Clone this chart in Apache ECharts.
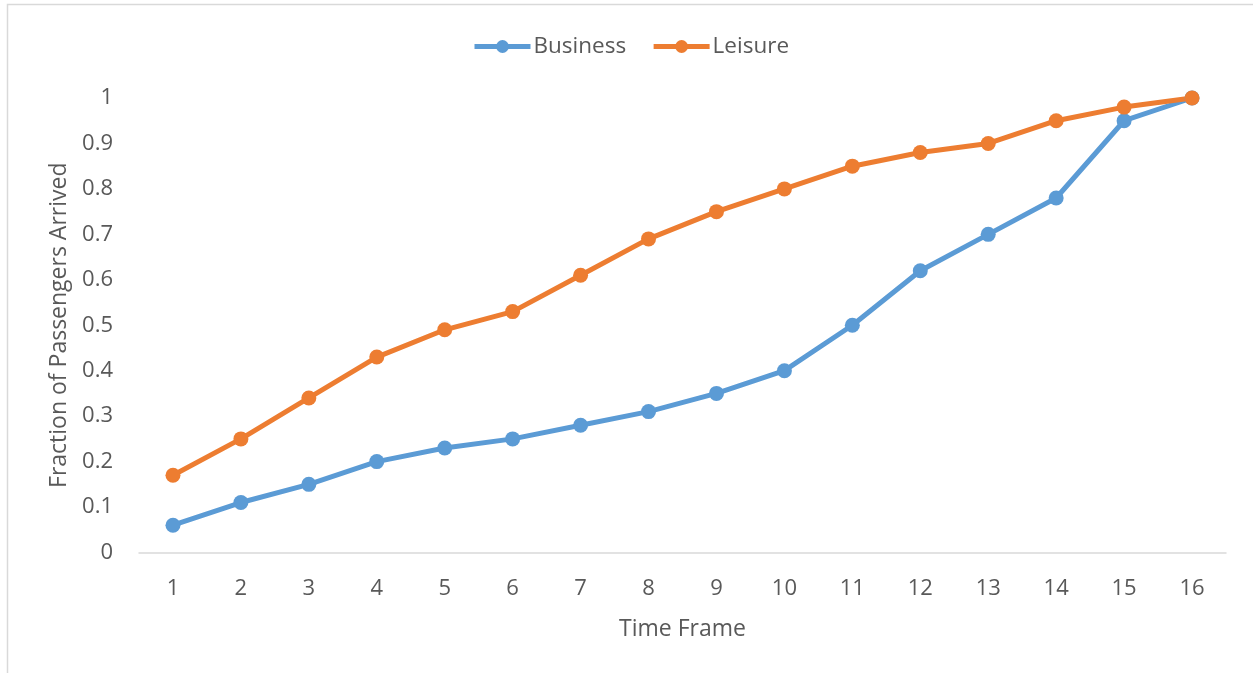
<!DOCTYPE html>
<html>
<head>
<meta charset="utf-8">
<script src="https://cdn.jsdelivr.net/npm/echarts@6/dist/echarts.min.js"></script>
<style>
  html, body { margin: 0; padding: 0; background: #fff; }
  #chart { width: 1253px; height: 673px; }
</style>
</head>
<body>
<div id="chart"></div>
<script>
// Time frames on the x axis
const timeFrames = ['1','2','3','4','5','6','7','8','9','10','11','12','13','14','15','16'];
// Cumulative fraction of passengers arrived per time frame
const business = [0.06, 0.11, 0.15, 0.20, 0.23, 0.25, 0.28, 0.31, 0.35, 0.40, 0.50, 0.62, 0.70, 0.78, 0.95, 1.00];
const leisure  = [0.17, 0.25, 0.34, 0.43, 0.49, 0.53, 0.61, 0.69, 0.75, 0.80, 0.85, 0.88, 0.90, 0.95, 0.98, 1.00];
const yTicks = [0, 0.1, 0.2, 0.3, 0.4, 0.5, 0.6, 0.7, 0.8, 0.9, 1];

const FONT = '"Open Sans", "Liberation Sans", sans-serif';
const TEXT = '#595959';

const chart = echarts.init(document.getElementById('chart'), null, { renderer: 'canvas' });

const lineSeries = (name, data, color) => ({
  name: name,
  type: 'line',
  data: data,
  symbol: 'circle',
  symbolSize: 15,
  lineStyle: { width: 5, color: color },
  itemStyle: { color: color },
  emphasis: { disabled: true },
  animation: false
});

chart.setOption({
  animation: false,
  graphic: [{
    type: 'rect',
    shape: { x: 7.5, y: 4.5, width: 1300, height: 700 },
    style: { fill: 'none', stroke: '#d9d9d9', lineWidth: 1.5 },
    silent: true
  }],
  legend: {
    top: 30,
    left: 467,
    itemWidth: 56,
    itemHeight: 16,
    itemGap: 25,
    lineStyle: { width: 5 },
    textStyle: { fontFamily: FONT, fontSize: 22.5, color: TEXT, padding: [0, 0, 0, -2] },
    data: ['Business', 'Leisure']
  },
  grid: { left: 139, right: 27, top: 98, bottom: 120.5, containLabel: false },
  xAxis: {
    type: 'category',
    data: timeFrames,
    boundaryGap: true,
    name: 'Time Frame',
    nameLocation: 'middle',
    nameGap: 65,
    nameTextStyle: { fontFamily: FONT, fontSize: 23, color: TEXT },
    axisLine: { lineStyle: { color: '#d9d9d9', width: 1.5 } },
    axisTick: { show: false },
    axisLabel: { fontFamily: FONT, fontSize: 22, color: TEXT, margin: 25 },
    splitLine: { show: false }
  },
  yAxis: {
    type: 'value',
    min: yTicks[0],
    max: yTicks[yTicks.length - 1],
    interval: 0.1,
    name: 'Fraction of Passengers Arrived',
    nameLocation: 'middle',
    nameGap: 68,
    nameRotate: 90,
    nameTextStyle: { fontFamily: FONT, fontSize: 23, color: TEXT },
    axisLine: { show: false },
    axisTick: { show: false },
    axisLabel: {
      fontFamily: FONT, fontSize: 22, color: TEXT, margin: 26,
      formatter: v => String(Math.round(v * 10) / 10)
    },
    splitLine: { show: false }
  },
  series: [
    lineSeries('Business', business, '#5B9BD5'),
    lineSeries('Leisure', leisure, '#ED7D31')
  ]
});
</script>
</body>
</html>
